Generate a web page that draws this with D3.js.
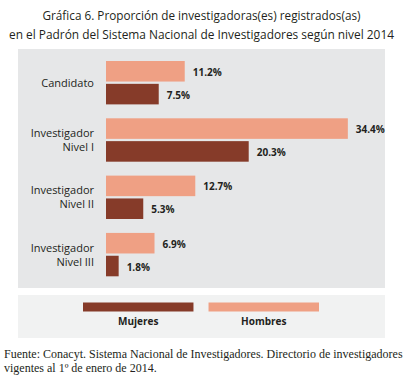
<!DOCTYPE html>
<html>
<head>
<meta charset="utf-8">
<script src="https://cdn.jsdelivr.net/npm/d3@7"></script>
<style>
  html, body { margin: 0; padding: 0; background: #fff; }
  svg { display: block; }
</style>
</head>
<body>
<div id="chart"></div>
<script>
// Datos
const categories = ["Candidato", "Investigador Nivel I", "Investigador Nivel II", "Investigador Nivel III"];
const labelLines = [["Candidato"], ["Investigador", "Nivel I"], ["Investigador", "Nivel II"], ["Investigador", "Nivel III"]];
const series = ["Hombres", "Mujeres"];
const hombres = [11.2, 34.4, 12.7, 6.9];
const mujeres = [7.5, 20.3, 5.3, 1.8];
const legendOrder = ["Mujeres", "Hombres"];

const titleLines = [
    "Gráfica 6. Proporción de investigadoras(es) registrados(as)",
    "en el Padrón del Sistema Nacional de Investigadores según nivel 2014"
];
const sourceLines = [
    "Fuente: Conacyt. Sistema Nacional de Investigadores. Directorio de investigadores",
    "vigentes al 1º de enero de 2014."
];

function renderChart() {
    const wSvg = 410, hSvg = 378;
    const colors = { Hombres: "#efa084", Mujeres: "#863b29" };
    const textColor = "#231f20";

    const svg = d3.select("#chart").append("svg")
        .attr("width", wSvg)
        .attr("height", hSvg);

    // Titulo
    svg.append("g").selectAll("text")
        .data(titleLines)
        .join("text")
        .attr("x", 201.5)
        .attr("y", (d, i) => 20 + i * 18.5)
        .attr("text-anchor", "middle")
        .attr("font-family", "'Open Sans', sans-serif")
        .attr("font-size", 12)
        .attr("fill", textColor)
        .attr("textLength", (d, i) => i === 0 ? 318 : 385)
        .attr("lengthAdjust", "spacingAndGlyphs")
        .text(d => d);

    // Paneles de fondo
    svg.append("rect")
        .attr("x", 18).attr("y", 49)
        .attr("width", 367).attr("height", 239)
        .attr("fill", "#e6e7e8");

    svg.append("rect")
        .attr("x", 18).attr("y", 295)
        .attr("width", 367).attr("height", 43)
        .attr("fill", "#f1f2f2");

    // Escalas
    const xScale = d3.scaleLinear()
        .domain([0, 35])
        .range([106, 106 + 35 * 7.03]);

    const yScale = d3.scaleBand()
        .domain(categories)
        .range([61, 276.3])
        .paddingInner(0.243)
        .paddingOuter(0);

    const ySub = d3.scaleBand()
        .domain(series)
        .range([0, yScale.bandwidth()])
        .paddingInner(0.1);

    const rows = categories.map((c, i) => ({
        category: c,
        lines: labelLines[i],
        values: [
            { key: "Hombres", value: hombres[i] },
            { key: "Mujeres", value: mujeres[i] }
        ]
    }));

    const groups = svg.append("g").selectAll("g")
        .data(rows)
        .join("g")
        .attr("transform", d => `translate(0, ${yScale(d.category)})`);

    // Barras
    groups.selectAll("rect")
        .data(d => d.values)
        .join("rect")
        .attr("x", xScale(0))
        .attr("y", d => ySub(d.key))
        .attr("width", d => xScale(d.value) - xScale(0))
        .attr("height", ySub.bandwidth())
        .attr("fill", d => colors[d.key]);

    // Etiquetas de valores
    groups.selectAll("text.value")
        .data(d => d.values)
        .join("text")
        .classed("value", true)
        .attr("x", d => xScale(d.value) + 8)
        .attr("y", d => ySub(d.key) + ySub.bandwidth() / 2 + 4.5)
        .attr("font-family", "'Open Sans', sans-serif")
        .attr("font-weight", "bold")
        .attr("font-size", 10)
        .attr("fill", textColor)
        .text(d => d.value.toFixed(1) + "%");

    // Etiquetas de categorias (una linea por texto)
    groups.selectAll("text.cat")
        .data(d => d.lines.map((t, j) => ({ t, j, n: d.lines.length })))
        .join("text")
        .classed("cat", true)
        .attr("x", 94)
        .attr("y", d => yScale.bandwidth() / 2 + 4 + (d.j - (d.n - 1) / 2) * 14)
        .attr("text-anchor", "end")
        .attr("font-family", "'Open Sans', sans-serif")
        .attr("font-size", 11)
        .attr("fill", textColor)
        .text(d => d.t);

    // Leyenda
    const legendX = d3.scaleBand()
        .domain(legendOrder)
        .range([83, 319])
        .paddingInner(0.12);

    const legend = svg.append("g").selectAll("g")
        .data(legendOrder)
        .join("g");

    legend.append("rect")
        .attr("x", d => legendX(d))
        .attr("y", 302.5)
        .attr("width", legendX.bandwidth())
        .attr("height", 9)
        .attr("fill", d => colors[d]);

    legend.append("text")
        .attr("x", d => legendX(d) + legendX.bandwidth() / 2)
        .attr("y", 325)
        .attr("text-anchor", "middle")
        .attr("font-family", "'Open Sans', sans-serif")
        .attr("font-weight", "bold")
        .attr("font-size", 10)
        .attr("fill", textColor)
        .text(d => d);

    // Fuente
    svg.append("g").selectAll("text")
        .data(sourceLines)
        .join("text")
        .attr("x", 4)
        .attr("y", (d, i) => 358 + i * 13.5)
        .attr("font-family", "'Liberation Serif', serif")
        .attr("font-size", 12)
        .attr("fill", textColor)
        .text(d => d);
}

renderChart();
</script>
</body>
</html>
